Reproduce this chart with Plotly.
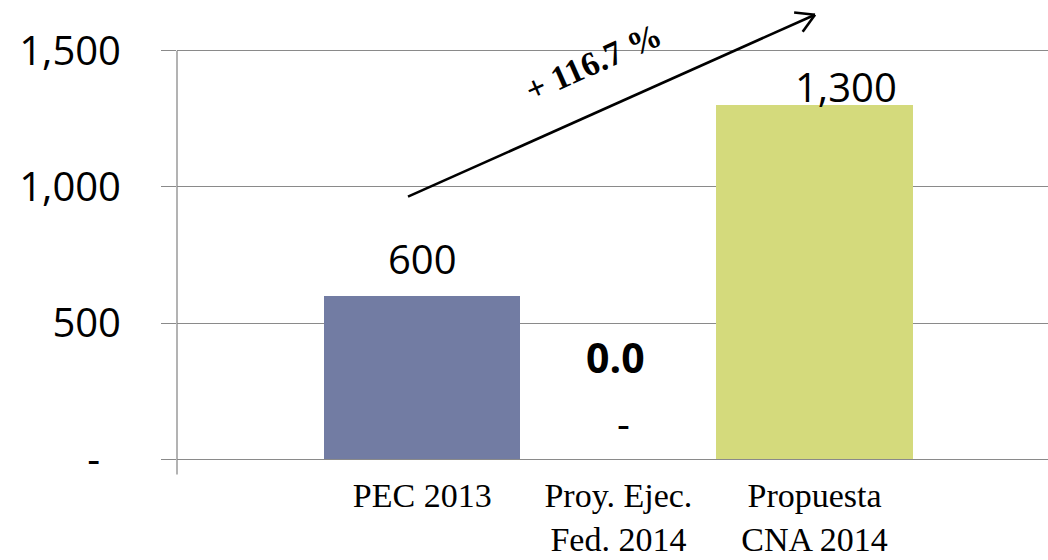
import math
import plotly.graph_objects as go

# ---- data ----
categories = ["PEC 2013", "Proy. Ejec.<br>Fed. 2014", "Propuesta<br>CNA 2014"]
values = [600, 0, 1300]
bar_colors = ["#727ca3", "#ffffff", "#d4da7c"]
y_tick_values = [0, 500, 1000, 1500]
growth_label = "+ 116.7 %"
middle_note = "0.0"

W, H = 1048, 560
ML, MR, MT, MB = 177, 0, 48.3, 97.6
Y_RANGE = [-10, 1510]
X_RANGE = [-1.25, 3.19]
GRID = "#8a8a8a"

def fmt(v):
    return "-" if v == 0 else f"{v:,.0f}"

xs = list(range(len(categories)))

fig = go.Figure()
fig.add_trace(go.Bar(
    x=xs, y=values, width=1.0,
    marker=dict(color=bar_colors, line=dict(width=0)),
    hoverinfo="skip",
))

# data labels (positions tuned per bar, as in the source chart)
label_shift = [(0, 37), (5, 37), (31, 19)]
annotations = []
for i, v in enumerate(values):
    dx, dy = label_shift[i]
    annotations.append(dict(
        x=xs[i], y=v, xref="x", yref="y", text=fmt(v), showarrow=False,
        xanchor="center", yanchor="middle", xshift=dx, yshift=dy,
        font=dict(family="Open Sans", size=40, color="black"),
    ))
annotations.append(dict(
    x=xs[1], y=0, xref="x", yref="y", text=f"<b>{middle_note}</b>", showarrow=False,
    xanchor="center", yanchor="middle", xshift=-3, yshift=102,
    font=dict(family="Open Sans", size=41, color="black"),
))

# pixel -> paper helpers
pw = W - ML - MR
ph = H - MT - MB
def px2paper(px, py):
    return (px - ML) / pw, (H - MB - py) / ph

# growth arrow
x0p, y0p = 408, 197
x1p, y1p = 815, 15
shapes = []
a0 = px2paper(x0p, y0p)
a1 = px2paper(x1p, y1p)
shapes.append(dict(type="line", xref="paper", yref="paper",
                   x0=a0[0], y0=a0[1], x1=a1[0], y1=a1[1],
                   line=dict(color="black", width=2.6)))
dxp, dyp = x0p - x1p, y0p - y1p
L = math.hypot(dxp, dyp)
ux, uy = dxp / L, dyp / L
for ang in (math.radians(30), math.radians(-30)):
    rx = ux * math.cos(ang) - uy * math.sin(ang)
    ry = ux * math.sin(ang) + uy * math.cos(ang)
    hx, hy = x1p + 21 * rx, y1p + 21 * ry
    h0 = px2paper(hx, hy)
    shapes.append(dict(type="line", xref="paper", yref="paper",
                       x0=h0[0], y0=h0[1], x1=a1[0], y1=a1[1],
                       line=dict(color="black", width=2.6)))

tp = px2paper(593, 63)
annotations.append(dict(
    x=tp[0], y=tp[1], xref="paper", yref="paper", text=f"<b>{growth_label}</b>",
    showarrow=False, textangle=-24, xanchor="center", yanchor="middle",
    font=dict(family="Liberation Serif", size=34, color="black"),
))

# y axis line extending a little below the zero line
yl0 = px2paper(0, 475)[1]
yl1 = px2paper(0, 51)[1]
shapes.append(dict(type="line", xref="paper", yref="paper",
                   x0=0, x1=0, y0=yl0, y1=yl1,
                   line=dict(color=GRID, width=1.3)))

fig.update_layout(
    width=W, height=H,
    margin=dict(l=ML, r=MR, t=MT, b=MB, pad=0),
    plot_bgcolor="white", paper_bgcolor="white",
    showlegend=False, bargap=0,
    shapes=shapes, annotations=annotations,
    xaxis=dict(
        range=X_RANGE, tickvals=xs, ticktext=categories,
        showgrid=False, zeroline=False, showline=False, ticks="",
        tickfont=dict(family="Liberation Serif", size=34, color="black"),
        ticklabelstandoff=10,
    ),
    yaxis=dict(
        range=Y_RANGE, tickvals=y_tick_values,
        ticktext=[fmt(v) + ("\u00a0\u00a0" if v == 0 else "") for v in y_tick_values],
        showgrid=True, gridcolor=GRID, gridwidth=1.3,
        zeroline=False, showline=False,
        ticks="outside", ticklen=15, tickcolor=GRID, tickwidth=1.3,
        tickfont=dict(family="Open Sans", size=40, color="black"),
        ticklabelstandoff=32,
    ),
)

fig.write_html(
    "out.html",
    config={"displayModeBar": False},
    post_script="document.body.style.margin='0';document.body.style.overflow='hidden';",
)
